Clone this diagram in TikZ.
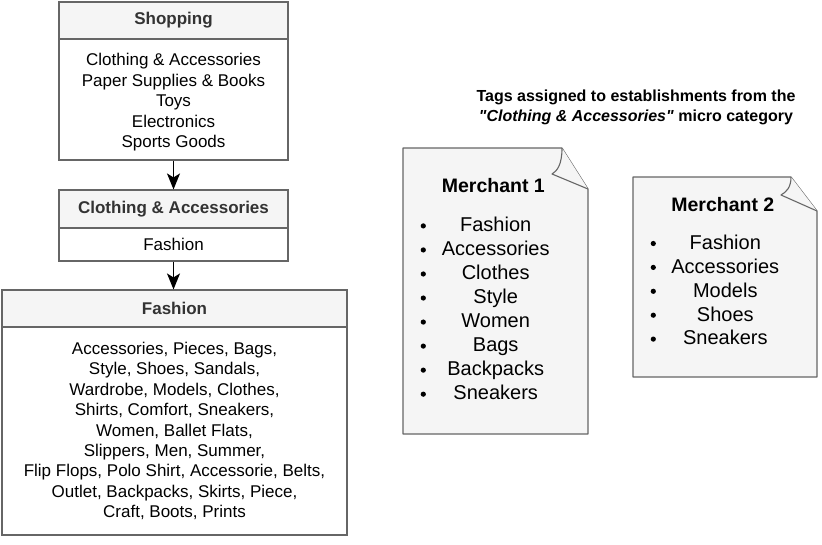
\documentclass[tikz,border=0pt]{standalone}
\usepackage{fontspec}
\setmainfont{Liberation Sans}
\newfontfamily\rawfont{Liberation Sans}
\usetikzlibrary{arrows.meta}
\definecolor{hdrfill}{HTML}{F5F5F5}
\definecolor{edgegrey}{HTML}{666666}
\definecolor{hdrtext}{HTML}{333333}
\newcommand{\dq}{{\rawfont\bfseries\itshape "}}
\begin{document}
\begin{tikzpicture}[x=1pt,y=-1pt,
  box/.style={draw=edgegrey, line width=1.1pt, inner sep=0pt, anchor=center},
  hdr/.style={box, fill=hdrfill, text=hdrtext, font=\bfseries\fontsize{17}{20.4}\selectfont},
  bdy/.style={box, fill=white, align=center, font=\fontsize{17}{20.4}\selectfont},
  bdytext/.style={inner sep=0pt, align=center, font=\fontsize{17}{20.5}\selectfont},
  arr/.style={-{Stealth[length=16pt,width=13pt,inset=4pt]}, line width=1.1pt, black},
  doc/.style={draw=edgegrey, fill=hdrfill, line width=1.1pt, line join=round},
  mtitle/.style={font=\bfseries\fontsize{19.5}{23}\selectfont, anchor=base, inner sep=0pt},
  mitem/.style={font=\fontsize{20}{24}\selectfont, anchor=base, inner sep=0pt},
  bul/.style={circle, fill=black, inner sep=0pt, minimum size=5.2pt}
]
\useasboundingbox (0,0) rectangle (822,544);

% Shopping
\node[hdr, minimum width=229pt, minimum height=37pt] (shophead) at (173.5,20.5) {Shopping};
\node[bdy, minimum width=229pt, minimum height=121pt] (shopbody) at (173.5,99.5) {};
\node[bdytext] (shoptext) at (173.5,102.2)
  {Clothing \& Accessories\\Paper Supplies \& Books\\Toys\\Electronics\\Sports Goods};

% Clothing & Accessories
\node[hdr, minimum width=229pt, minimum height=38pt] (clothhead) at (173.5,209) {Clothing \& Accessories};
\node[bdy, minimum width=229pt, minimum height=33pt] (clothbody) at (173.5,244.5) {Fashion};

% Fashion
\node[hdr, minimum width=345pt, minimum height=37pt] (fashhead) at (174.5,308.5) {Fashion};
\node[bdy, minimum width=345pt, minimum height=208pt] (fashbody) at (174.5,431)
  {Accessories, Pieces, Bags,\\Style, Shoes, Sandals,\\Wardrobe, Models, Clothes,\\Shirts, Comfort, Sneakers,\\Women, Ballet Flats,\\Slippers, Men, Summer,\\Flip Flops, Polo Shirt, Accessorie, Belts,\\Outlet, Backpacks, Skirts, Piece,\\Craft, Boots, Prints};

% arrows
\draw[arr] (shopbody.south -| clothhead.north) -- (clothhead.north);
\draw[arr] (clothbody.south) -- (clothbody.south |- fashhead.north);

% title
\node[font=\bfseries\fontsize{16}{20.6}\selectfont, align=center] (title) at (636,107.5)
  {Tags assigned to establishments from the\\\textit{\dq Clothing \& Accessories\dq} micro category};

% Merchant 1 document
\draw[doc] (403,148) -- (562,148) -- (588,189) -- (588,434) -- (403,434) -- cycle;
\draw[doc] (562,148) .. controls (562,165) and (557,171) .. (552,174) -- (588,189);
\node[mtitle] (m1title) at (493.3,192.3) {Merchant 1};
\foreach \t [count=\i from 0] in {Fashion,Accessories,Clothes,Style,Women,Bags,Backpacks,Sneakers} {
  \node[mitem] (m1i\i) at (495.7,{231.7+24.04*\i}) {\t};
  \node[bul] (m1b\i) at (423.3,{225.9+24.04*\i}) {};
}

% Merchant 2 document
\draw[doc] (633,177) -- (791,177) -- (817,211) -- (817,377) -- (633,377) -- cycle;
\draw[doc] (791,177) .. controls (791,188) and (786,192) .. (781,195) -- (817,211);
\node[mtitle] (m2title) at (722.8,211.7) {Merchant 2};
\foreach \t [count=\i from 0] in {Fashion,Accessories,Models,Shoes,Sneakers} {
  \node[mitem] (m2i\i) at (725.3,{249.3+23.9*\i}) {\t};
  \node[bul] (m2b\i) at (653.3,{243.5+23.9*\i}) {};
}
\end{tikzpicture}
\end{document}
